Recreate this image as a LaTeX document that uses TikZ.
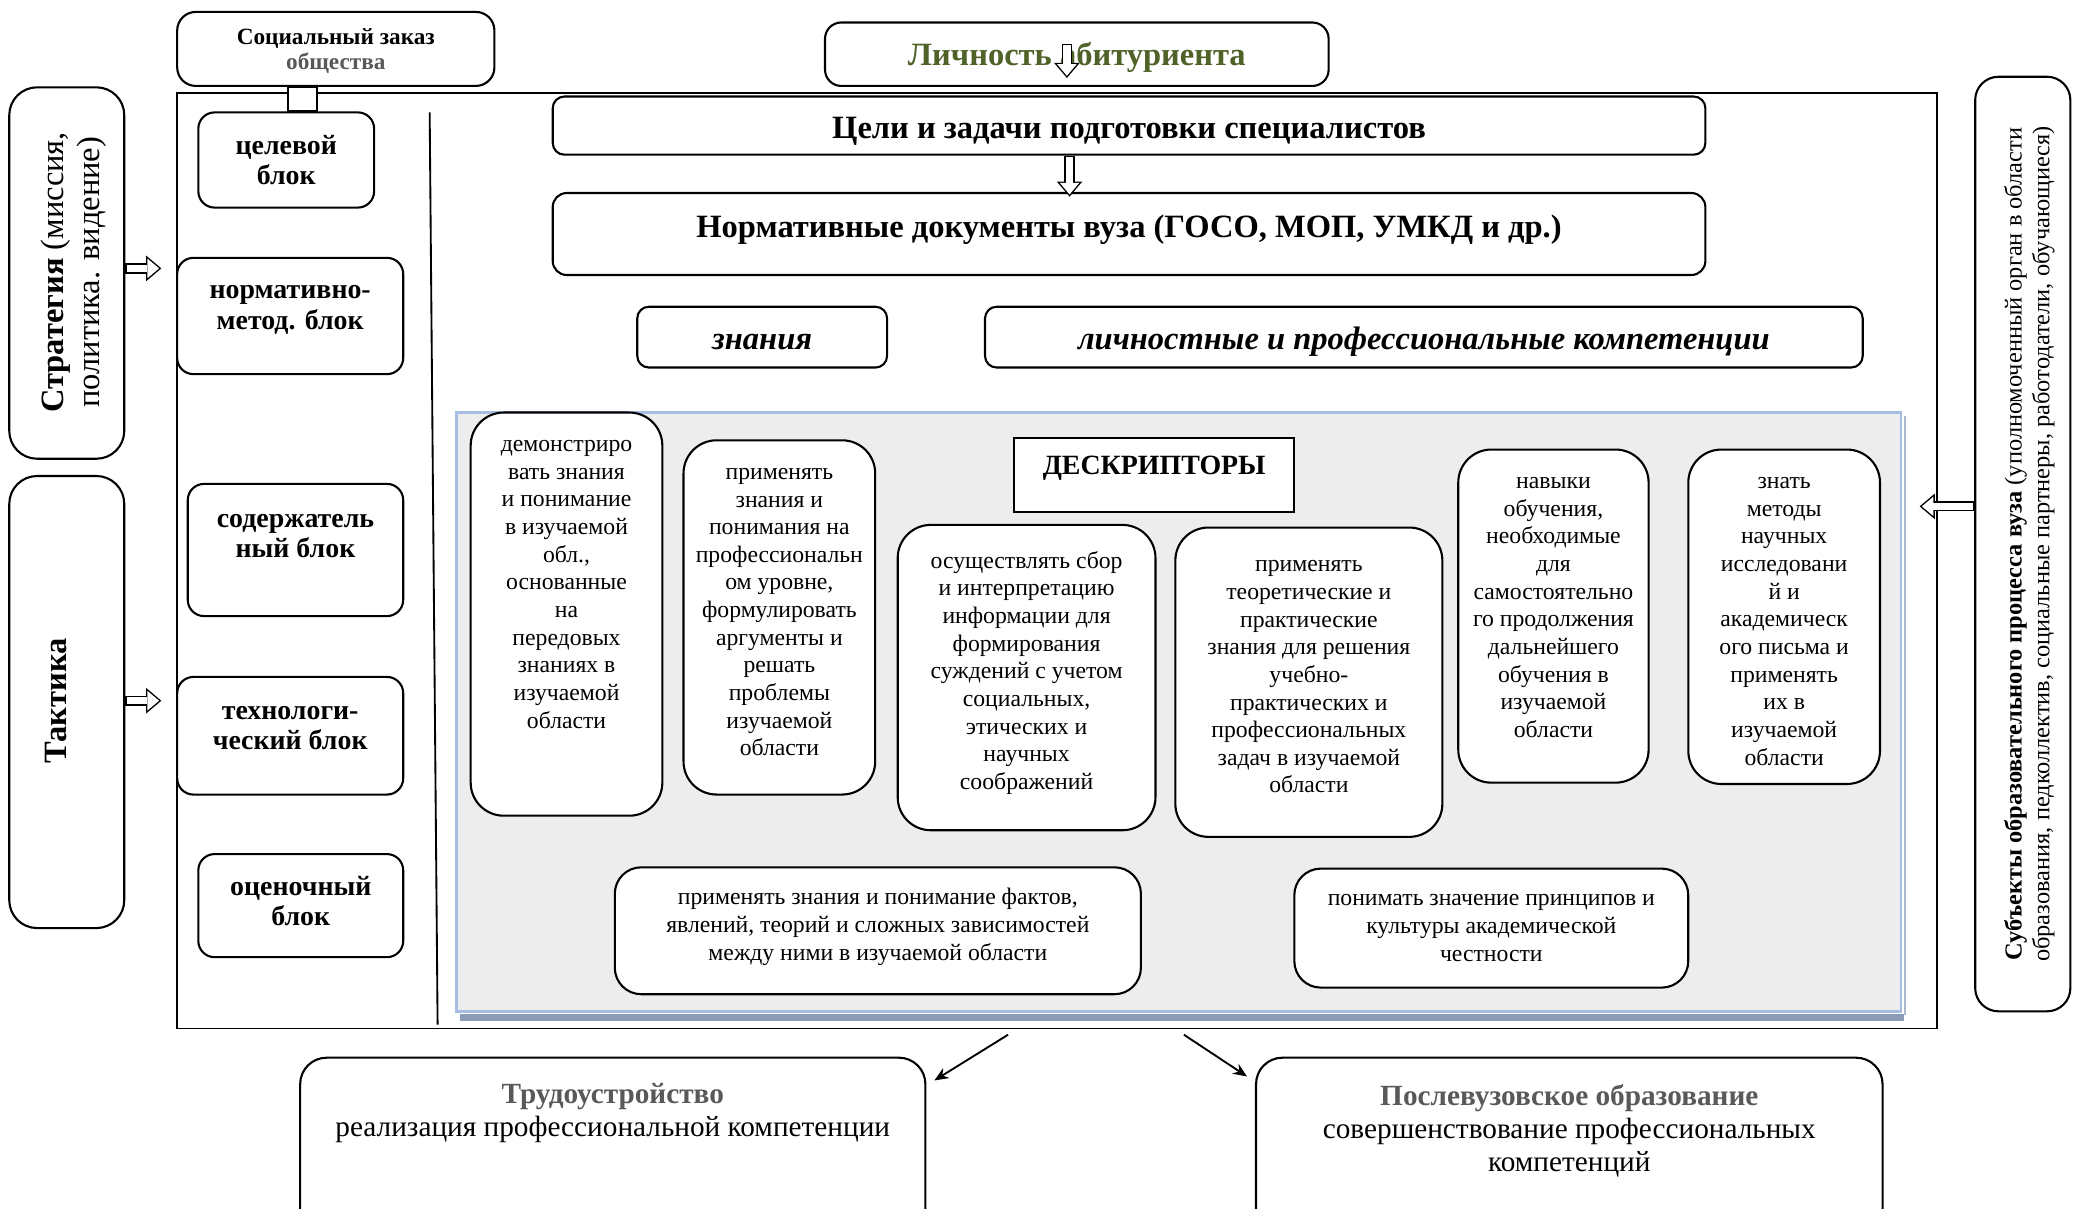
\documentclass[tikz,border=0pt]{standalone}
\usepackage{fontspec}
\setmainfont{Liberation Serif}
\usetikzlibrary{positioning, arrows.meta}

\definecolor{olivetxt}{HTML}{4F6228}
\definecolor{greytxt}{HTML}{595959}
\definecolor{panelfill}{HTML}{EDEDED}
\definecolor{panelline}{HTML}{A4BDE0}
\definecolor{panelshadow}{HTML}{8A9BB8}

\begin{document}
\begin{tikzpicture}[x=0.02cm, y=-0.02cm, >={Stealth[length=6pt, width=5pt]},
    box/.style={draw, line width=0.9pt, rounded corners=7pt, fill=white, inner sep=0pt},
    headtxt/.style={font=\bfseries\fontsize{14}{16}\selectfont, text height=10.5pt, text depth=0pt},
    blocktxt/.style={align=center, font=\bfseries\fontsize{12}{13.1}\selectfont},
    desc/.style={draw, line width=0.9pt, rounded corners=0.5cm, fill=white, inner sep=0pt},
    desctxt/.style={align=center, font=\fontsize{10.2}{11.9}\selectfont},
    exittxt/.style={align=center, font=\fontsize{12.6}{14.2}\selectfont},
    hollow/.style={line width=4.4pt, -{Triangle[length=6.5pt, width=11pt, line width=0pt]}},
    hollowin/.style={line width=3.2pt, white, -{Triangle[length=5pt, width=8.4pt, line width=0pt]}, shorten >=0.95pt, shorten <=0.6pt}]

    \useasboundingbox (0,0) rectangle (1568,914);

    % frame of the model
    \node[draw, line width=0.8pt, inner sep=0pt, minimum width=26.62cm, minimum height=14.16cm] (outer) at (799.5,424) {};
    \draw[line width=0.8pt] (325,85) -- (331,775);

    \node[box, rounded corners=8pt, minimum width=4.8cm, minimum height=1.12cm] (soc) at (254,37) {};
    \node[align=center, font=\bfseries\fontsize{10}{10.8}\selectfont] (soct) at (254,38.5) {Социальный заказ\\\textcolor{greytxt}{общества}};
    \node[box, minimum width=7.62cm, minimum height=0.96cm, headtxt, text height=10pt, text=olivetxt] (lich) at (814.5,41) {Личность абитуриента};

    % left column
    \node[box, minimum width=2.66cm, minimum height=1.44cm, blocktxt] (cel) at (216.5,121) {целевой\\блок};
    \node[box, minimum width=3.42cm, minimum height=1.76cm] (normb) at (219.5,239) {};
    \node[blocktxt] (normbt) at (219.5,234.5) {нормативно-\\метод. блок};
    \node[box, minimum width=3.26cm, minimum height=2.0cm] (sod) at (223.5,416) {};
    \node[blocktxt] (sodt) at (223.5,405.5) {содержатель\\ный блок};
    \node[box, minimum width=3.42cm, minimum height=1.78cm] (tech) at (219.5,556.5) {};
    \node[blocktxt] (techt) at (219.5,550.5) {технологи-\\ческий блок};
    \node[box, minimum width=3.1cm, minimum height=1.56cm] (ocen) at (227.5,685) {};
    \node[blocktxt] (ocent) at (227.5,681.5) {оценочный\\блок};

    \coordinate (sq) at (229,0);
    \draw[line width=0.8pt, fill=white] ([xshift=-0.22cm]sq |- soc.south) rectangle ([xshift=0.22cm]sq |- cel.north);

    % strategy, tactics, subjects
    \node[box, rounded corners=12pt, minimum width=1.74cm, minimum height=5.62cm] (strat) at (50.5,206.5) {};
    \node[rotate=90, align=center, font=\fontsize{14}{15.4}\selectfont] (stratt) at (56,206) {\textbf{Стратегия} (миссия,\\политика. видение)};
    \node[box, rounded corners=12pt, minimum width=1.74cm, minimum height=6.84cm] (takt) at (50.5,531) {};
    \node[rotate=90, font=\bfseries\fontsize{14}{16}\selectfont] (taktt) at (42,530) {Тактика};
    \node[box, rounded corners=10pt, minimum width=1.44cm, minimum height=14.14cm] (subj) at (1530,411.5) {};
    \node[rotate=90, align=center, font=\fontsize{10.5}{12}\selectfont] (subjt) at (1535,411.5) {\textbf{Субъекты образовательного процесса вуза} (уполномоченный орган в области\\образования, педколлектив, социальные партнеры, работодатели, обучающиеся)};

    % goals and documents
    \node[box, rounded corners=5pt, minimum width=17.44cm, minimum height=0.88cm, headtxt, text height=11pt] (celi) at (854,95) {Цели и задачи подготовки специалистов};
    \node[box, rounded corners=6pt, minimum width=17.44cm, minimum height=1.24cm, headtxt, text height=9pt, text depth=6pt] (normd) at (854,177) {Нормативные документы вуза (ГОСО, МОП, УМКД и др.)};
    \node[box, rounded corners=5pt, minimum width=3.78cm, minimum height=0.92cm, headtxt, font=\bfseries\itshape\fontsize{14}{16}\selectfont] (znan) at (576.5,255) {знания};
    \node[box, rounded corners=5pt, minimum width=13.28cm, minimum height=0.92cm, headtxt, font=\bfseries\itshape\fontsize{14}{16}\selectfont] (lichn) at (1077,255) {личностные и профессиональные компетенции};

    % descriptors
    \node[fill=panelfill, draw=panelline, line width=1.2pt, inner sep=0pt, minimum width=21.86cm, minimum height=9.06cm] (panel) at (891.5,538.5) {};
    \draw[panelshadow, line width=2.8pt] ([xshift=2pt, yshift=-2pt]panel.south west) -- ([xshift=0.9pt, yshift=-2pt]panel.south east);
    \draw[panelshadow!70, line width=1pt] ([xshift=1.2pt, yshift=-1pt]panel.south east) -- ([xshift=1.2pt, yshift=-2pt]panel.north east);
    \node[draw, line width=0.9pt, fill=white, minimum width=4.24cm, minimum height=1.12cm] (desk) at (873,359) {};
    \node[font=\bfseries\fontsize{12}{14}\selectfont] (deskt) at (873,354) {ДЕСКРИПТОРЫ};

    \node[desc, minimum width=2.9cm, minimum height=6.1cm] (da) at (428.5,464.5) {};
    \node[desctxt] (dat) at (428.5,442) {демонстриро\\вать знания\\и понимание\\в изучаемой\\обл.,\\основанные\\на\\передовых\\знаниях в\\изучаемой\\области};
    \node[desc, minimum width=2.9cm, minimum height=5.36cm] (db) at (589.5,467) {};
    \node[desctxt] (dbt) at (589.5,463) {применять\\знания и\\понимания на\\профессиональн\\ом уровне,\\формулировать\\аргументы и\\решать\\проблемы\\изучаемой\\области};
    \node[desc, minimum width=3.9cm, minimum height=4.62cm] (dc) at (776.5,512.5) {};
    \node[desctxt] (dct) at (776.5,509) {осуществлять сбор\\и интерпретацию\\информации для\\формирования\\суждений с учетом\\социальных,\\этических и\\научных\\соображений};
    \node[desc, minimum width=4.04cm, minimum height=4.68cm] (dd) at (990,516) {};
    \node[desctxt] (ddt) at (990,512) {применять\\теоретические и\\практические\\знания для решения\\учебно-\\практических и\\профессиональных\\задач в изучаемой\\области};
    \node[desc, minimum width=2.88cm, minimum height=5.04cm] (de) at (1175,466) {};
    \node[desctxt] (det) at (1175,459.5) {навыки\\обучения,\\необходимые\\для\\самостоятельно\\го продолжения\\дальнейшего\\обучения в\\изучаемой\\области};
    \node[desc, minimum width=2.9cm, minimum height=5.06cm] (df) at (1349.5,466.5) {};
    \node[desctxt] (dft) at (1349.5,470) {знать\\методы\\научных\\исследовани\\й и\\академическ\\ого письма и\\применять\\их в\\изучаемой\\области};
    \node[desc, rounded corners=0.4cm, minimum width=7.96cm, minimum height=1.92cm] (dg) at (664,704) {};
    \node[desctxt] (dgt) at (664,701) {применять знания и понимание фактов,\\явлений, теорий и сложных зависимостей\\между ними в изучаемой области};
    \node[desc, rounded corners=0.4cm, minimum width=5.96cm, minimum height=1.8cm] (dh) at (1128,702) {};
    \node[desctxt] (dht) at (1128,702) {понимать значение принципов и\\культуры академической\\честности};

    % outcomes
    \node[box, rounded corners=0.4cm, minimum width=9.46cm, minimum height=2.8cm] (trud) at (463.5,870) {};
    \node[exittxt] (trudt) at (463.5,842) {\textcolor{greytxt}{\textbf{Трудоустройство}}\\реализация профессиональной компетенции};
    \node[box, rounded corners=0.4cm, minimum width=9.48cm, minimum height=2.8cm] (posl) at (1187,870) {};
    \node[exittxt] (poslt) at (1187,855) {\textcolor{greytxt}{\textbf{Послевузовское образование}}\\совершенствование профессиональных\\компетенций};

    \draw[->, line width=0.8pt] ([shift={(-37,4)}]outer.south) -- ([shift={(6,18)}]trud.north east);
    \draw[->, line width=0.8pt] ([shift={(96,4)}]outer.south) -- ([shift={(-6,15)}]posl.north west);

    % white block arrows
    \coordinate (sa) at (122,203);
    \coordinate (ta) at (122,530);
    \coordinate (ra) at (1452,383);
    \coordinate (la) at (807,33);
    \coordinate (lb) at (807,59);
    \coordinate (ca) at (809,0);
    \draw[hollow] (strat.east |- sa) -- (sa);
    \draw[hollowin] (strat.east |- sa) -- (sa);
    \draw[hollow] (takt.east |- ta) -- (ta);
    \draw[hollowin] (takt.east |- ta) -- (ta);
    \draw[hollow] (subj.west |- ra) -- (ra);
    \draw[hollowin] (subj.west |- ra) -- (ra);
    \draw[hollow] (la) -- (lb);
    \draw[hollowin] (la) -- (lb);
    \draw[hollow] (celi.south -| ca) -- ([yshift=-2pt]normd.north -| ca);
    \draw[hollowin] (celi.south -| ca) -- ([yshift=-2pt]normd.north -| ca);
\end{tikzpicture}
\end{document}
